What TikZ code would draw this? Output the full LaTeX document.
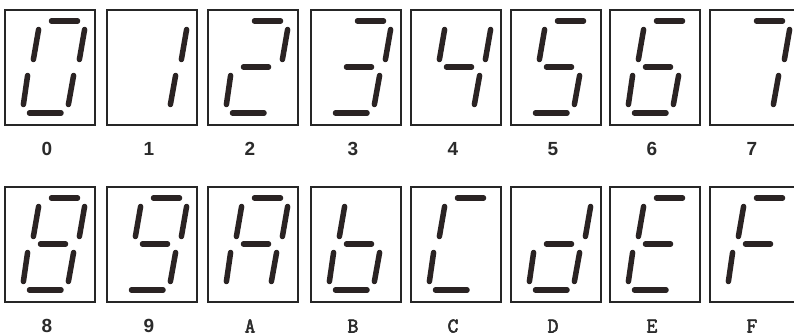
\documentclass[tikz,border=0pt]{standalone}
\usepackage{fontspec}
\newfontfamily\digfont{Liberation Sans}
\newfontfamily\letfont{Latin Modern Mono}[FakeBold=2.5]
\usepackage{tikz}
\usetikzlibrary{positioning}

\definecolor{segcol}{HTML}{2A2323}
\definecolor{framecol}{HTML}{262626}
\definecolor{labcol}{HTML}{2B2B2B}

% the seven segments, in box coordinates (pt, y going down)
\newcommand\segmentA{(46.5,11) -- (72.5,11)}
\newcommand\segmentB{(79.6,19.5) -- (74.4,49.5)}
\newcommand\segmentC{(68.6,65.5) -- (63.4,94.5)}
\newcommand\segmentD{(24.5,103) -- (56,103)}
\newcommand\segmentE{(22.6,65.5) -- (18.4,94.5)}
\newcommand\segmentF{(33.6,19.5) -- (28.4,49.5)}
\newcommand\segmentG{(35.5,57) -- (60.5,57)}

\begin{document}
\begin{tikzpicture}[
  x=1pt,y=-1pt,
  dispbox/.style={draw=framecol,line width=1.8pt,minimum width=90pt,minimum height=115pt,inner sep=0pt,outer sep=0pt,anchor=north west},
  seg/.style={draw=segcol,line width=5.5pt,line cap=round},
  numlab/.style={font=\digfont\bfseries\fontsize{19}{19}\selectfont,text=labcol,inner sep=0pt,anchor=base},
  letlab/.style={font=\letfont\fontsize{21}{21}\selectfont,text=labcol,inner sep=0pt,anchor=base}
]
\useasboundingbox (0,0) rectangle (794,336);
\clip (0,0) rectangle (794,336);
\fill[white] (0,0) rectangle (794,336);
\foreach \lab/\bx/\by/\sty/\segs in {
  0/5/10/numlab/{A,B,C,D,E,F},
  1/107/10/numlab/{B,C},
  2/208/10/numlab/{A,B,G,E,D},
  3/311/10/numlab/{A,B,G,C,D},
  4/411/10/numlab/{F,G,B,C},
  5/511/10/numlab/{A,F,G,C,D},
  6/610/10/numlab/{A,F,G,E,C,D},
  7/710/10/numlab/{A,B,C},
  8/5/187/numlab/{A,B,C,D,E,F,G},
  9/107/187/numlab/{A,B,C,D,F,G},
  A/208/187/letlab/{A,B,C,E,F,G},
  B/311/187/letlab/{C,D,E,F,G},
  C/411/187/letlab/{A,D,E,F},
  D/511/187/letlab/{B,C,D,E,G},
  E/610/187/letlab/{A,D,E,F,G},
  F/710/187/letlab/{A,E,F,G}} {
  \node[dispbox] (disp\lab) at (\bx,\by) {};
  \node[\sty] (lab\lab) at ([xshift=-3pt,yshift=-30.5pt]disp\lab.south) {\lab};
  \begin{scope}[shift={(disp\lab.north west)}]
    \foreach \s in \segs {\draw[seg] \csname segment\s\endcsname;}
  \end{scope}
}
\end{tikzpicture}
\end{document}
